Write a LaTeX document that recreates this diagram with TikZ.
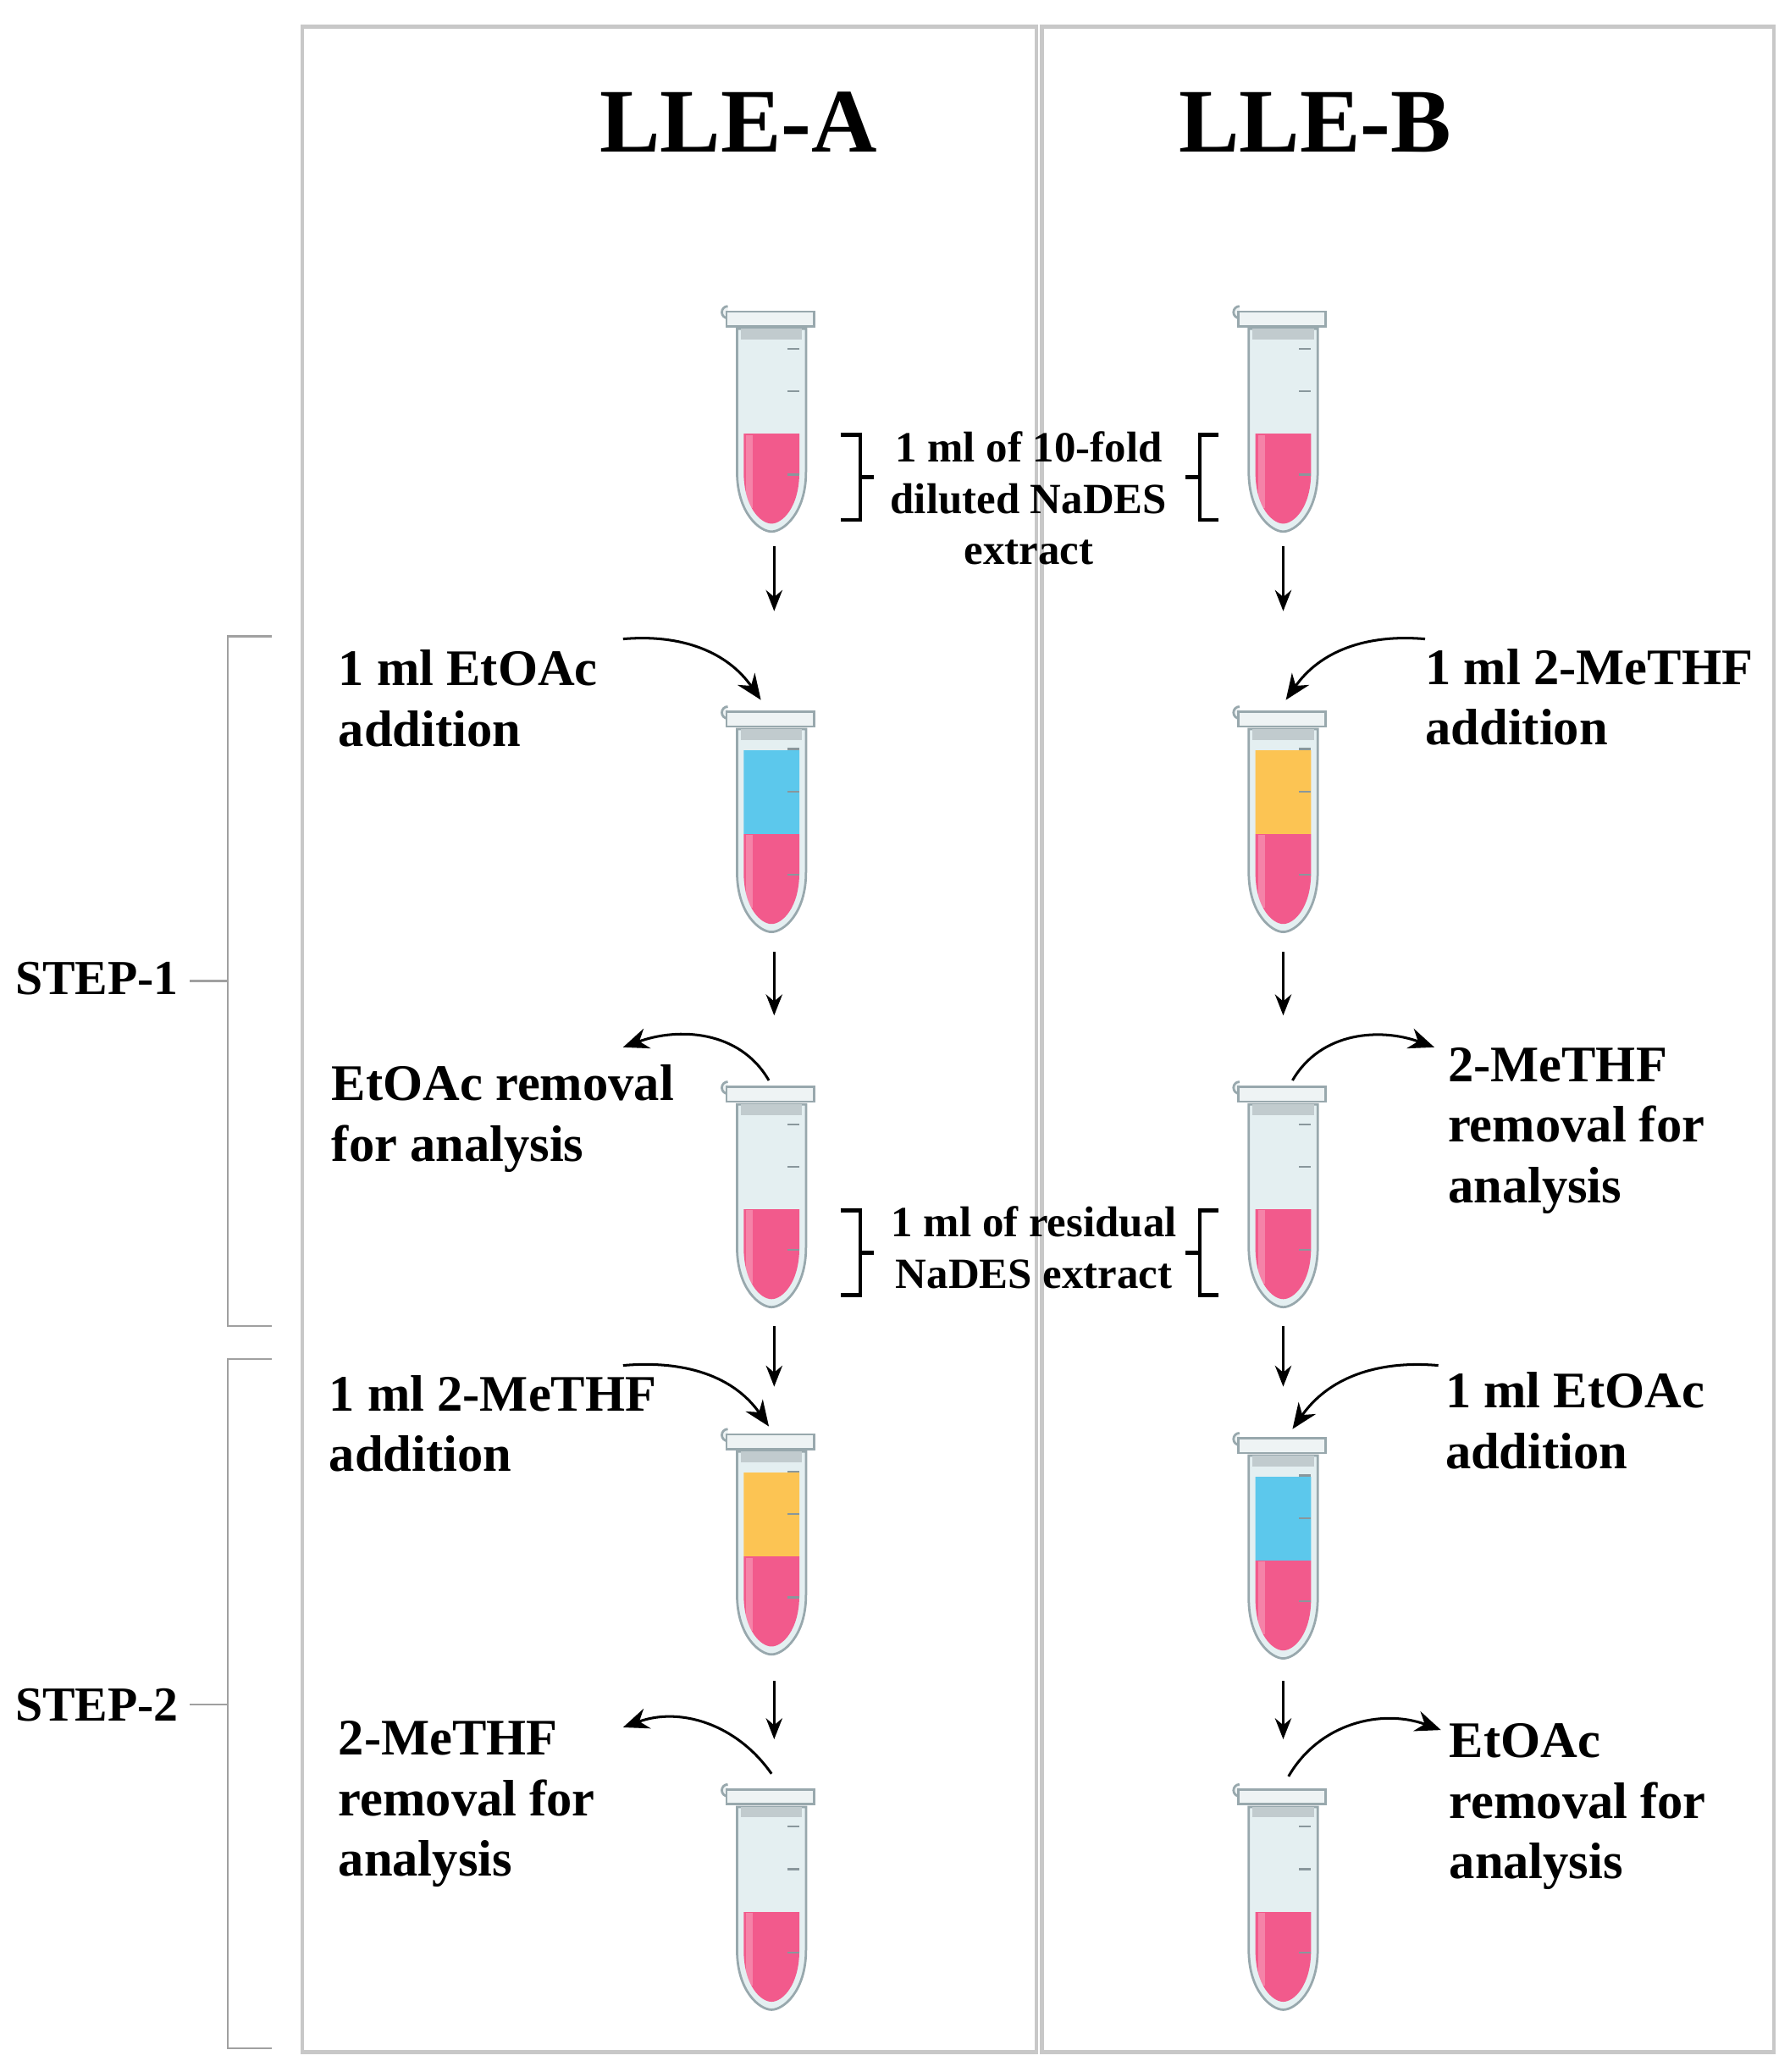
\documentclass[tikz,border=0pt]{standalone}
\usepackage{fontspec}
\setmainfont{Liberation Serif}
\usetikzlibrary{arrows.meta}
\definecolor{pinkL}{HTML}{F25A8C}
\definecolor{blueL}{HTML}{5CC8EC}
\definecolor{orangeL}{HTML}{FCC453}
\definecolor{glass}{HTML}{E4EFF1}
\definecolor{tubeline}{HTML}{98A8AD}
\definecolor{capc}{HTML}{EEF3F4}
\definecolor{panel}{HTML}{C8C8C8}
\tikzset{
 lbl/.style={font=\bfseries\fontsize{22}{26}\selectfont, align=left, anchor=north west, inner sep=0pt},
 mid/.style={font=\bfseries\fontsize{18.5}{22}\selectfont, align=center, inner sep=0pt},
 ttl/.style={font=\bfseries\fontsize{39}{44}\selectfont, inner sep=0pt},
 stp/.style={font=\bfseries\fontsize{21}{24}\selectfont, anchor=east, inner sep=0pt},
 down/.style={-{Stealth[length=9pt,width=7pt]}, line width=1.3pt},
 curv/.style={-{Stealth[length=11pt,width=9pt]}, line width=1.1pt},
 brk/.style={line width=1.6pt},
 stepb/.style={line width=0.8pt, draw=panel!80!black}
}
\newcommand\mytube[3]{% x, y(top), top layer colour
\begin{scope}[shift={(#1,#2)}]
 \fill[glass,draw=tubeline,line width=1pt] (-26,10) -- (-26,118) .. controls (-26,149) and (-9,163) .. (0,163) .. controls (9,163) and (26,149) .. (26,118) -- (26,10) -- cycle;
 \begin{scope}
  \clip (-21,14) -- (-21,118) .. controls (-21,145) and (-8,157) .. (0,157) .. controls (8,157) and (21,145) .. (21,118) -- (21,14) -- cycle;
  \ifx\relax#3\relax\else\fill[#3] (-22,26) rectangle (22,89);\fi
  \fill[pinkL] (-22,89) rectangle (22,170);
  \fill[white,opacity=0.25] (-19,90) rectangle (-14,145);
 \end{scope}
 \fill[tubeline!60] (-23,10) rectangle (23,18);
 \draw[tubeline,line width=1pt,fill=capc] (-33,2) arc[start angle=90,end angle=270,radius=4.5];
 \fill[capc,draw=tubeline,line width=1pt] (-34,-3) rectangle (32,8);
 \foreach \yy in {25,57,120} \draw[tubeline!90!black,line width=0.8pt] (12,\yy) -- (21,\yy);
\end{scope}}
\begin{document}
\begin{tikzpicture}[x=0.02cm,y=-0.02cm]
\useasboundingbox (0,0) rectangle (1350,1563);
% panels
\draw[panel,line width=1.6pt] (228,20) rectangle (782,1548);
\draw[panel,line width=1.6pt] (786,20) rectangle (1338,1548);
\node[ttl] (ta) at (557,92) {LLE-A};
\node[ttl] (tb) at (992,92) {LLE-B};
% tubes
\mytube{582}{238}{}
\mytube{582}{540}{blueL}
\mytube{582}{823}{}
\mytube{582}{1085}{orangeL}
\mytube{582}{1353}{}
\mytube{968}{238}{}
\mytube{968}{540}{orangeL}
\mytube{968}{823}{}
\mytube{968}{1088}{blueL}
\mytube{968}{1353}{}
% down arrows
\foreach \x in {584,968}{
 \coordinate (a1\x) at (\x,412); \coordinate (b1\x) at (\x,461);
 \coordinate (a2\x) at (\x,718); \coordinate (b2\x) at (\x,766);
 \coordinate (a3\x) at (\x,1000); \coordinate (b3\x) at (\x,1046);
 \coordinate (a4\x) at (\x,1268); \coordinate (b4\x) at (\x,1312);
 \foreach \i in {1,2,3,4} \draw[down] (a\i\x) -- (b\i\x);
}
% curved arrows
\coordinate (c1s) at (470,482); \coordinate (c1e) at (574,528);
\draw[curv] (c1s) to[out=5,in=125] (c1e);
\coordinate (c2s) at (580,815); \coordinate (c2e) at (470,790);
\draw[curv] (c2s) to[out=120,in=20] (c2e);
\coordinate (c3s) at (470,1030); \coordinate (c3e) at (580,1076);
\draw[curv] (c3s) to[out=5,in=125] (c3e);
\coordinate (c4s) at (582,1338); \coordinate (c4e) at (470,1303);
\draw[curv] (c4s) to[out=125,in=20] (c4e);
\coordinate (d1s) at (1075,482); \coordinate (d1e) at (970,528);
\draw[curv] (d1s) to[out=175,in=55] (d1e);
\coordinate (d2s) at (975,815); \coordinate (d2e) at (1082,790);
\draw[curv] (d2s) to[out=60,in=160] (d2e);
\coordinate (d3s) at (1085,1030); \coordinate (d3e) at (975,1078);
\draw[curv] (d3s) to[out=175,in=55] (d3e);
\coordinate (d4s) at (972,1340); \coordinate (d4e) at (1087,1305);
\draw[curv] (d4s) to[out=60,in=160] (d4e);
% labels
\node[lbl] (l1) at (255,490) {1 ml EtOAc\\addition};
\node[lbl] (l2) at (250,803) {EtOAc removal\\for analysis};
\node[lbl] (l3) at (248,1037) {1 ml 2-MeTHF\\addition};
\node[lbl] (l4) at (255,1298) {2-MeTHF\\removal for\\analysis};
\node[lbl] (r1) at (1075,489) {1 ml 2-MeTHF\\addition};
\node[lbl] (r2) at (1092,790) {2-MeTHF\\removal for\\analysis};
\node[lbl] (r3) at (1090,1035) {1 ml EtOAc\\addition};
\node[lbl] (r4) at (1093,1300) {EtOAc\\removal for\\analysis};
% middle texts
\node[mid] (m1) at (776,376) {1 ml of 10-fold\\diluted NaDES\\extract};
\draw[brk] (634,328) -- (649,328) -- (649,392) -- (634,392) (649,360) -- (659,360);
\draw[brk] (919,328) -- (905,328) -- (905,392) -- (919,392) (905,360) -- (894,360);
\node[mid] (m2) at (780,941) {1 ml of residual\\NaDES extract};
\draw[brk] (634,913) -- (649,913) -- (649,977) -- (634,977) (649,945) -- (659,945);
\draw[brk] (919,913) -- (905,913) -- (905,977) -- (919,977) (905,945) -- (894,945);
% steps
\node[stp] (s1) at (135,738) {STEP-1};
\draw[stepb] (205,480) -- (172,480) -- (172,1000) -- (205,1000) (172,740) -- (143,740);
\node[stp] (s2) at (135,1286) {STEP-2};
\draw[stepb] (205,1025) -- (172,1025) -- (172,1545) -- (205,1545) (172,1286) -- (143,1286);
\end{tikzpicture}
\end{document}
